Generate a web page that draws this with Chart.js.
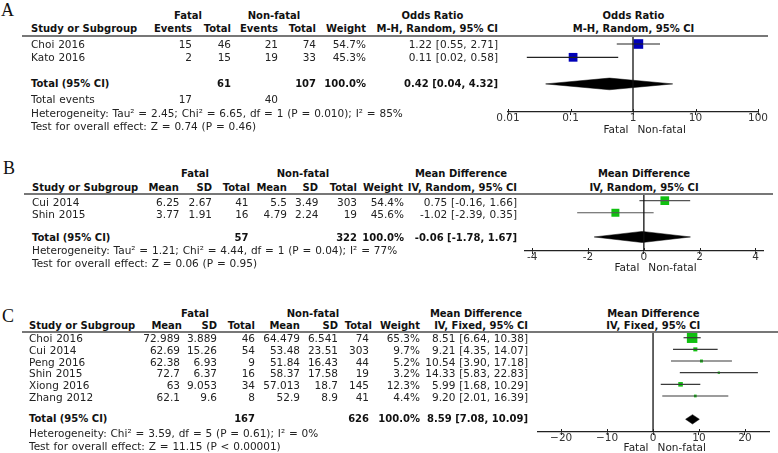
<!DOCTYPE html>
<html>
<head>
<meta charset="utf-8">
<script src="https://cdn.jsdelivr.net/npm/chart.js@4.4.1/dist/chart.umd.min.js"></script>
<style>
  body { margin: 0; background: #fff; width: 778px; height: 453px; position: relative; overflow: hidden; font-family: "DejaVu Sans", Verdana, sans-serif; }
  .t { position: absolute; white-space: nowrap; font-size: 10.5px; word-spacing: 0.5px; line-height: 12px; color: #222; }
  .b { font-size: 10px; word-spacing: 0; font-weight: bold; color: #111; }
  .letter { position: absolute; font-family: "Liberation Serif", serif; font-size: 18px; line-height: 20px; color: #111; }
  .rule { position: absolute; height: 2px; background: #777; }
  canvas { position: absolute; }
</style>
</head>
<body>
<canvas id="plotA" width="290" height="105" style="left:488px;top:37px"></canvas>
<canvas id="plotB" width="258" height="87" style="left:515px;top:194px"></canvas>
<canvas id="plotC" width="251" height="122" style="left:528px;top:332px"></canvas>
<script>
// ---- A: odds ratio ----
const studiesA = ['Choi 2016', 'Kato 2016'];
const fatalEventsA = [15, 2];
const fatalTotalA = [46, 15];
const nonfatalEventsA = [21, 19];
const nonfatalTotalA = [74, 33];
const weightA = [54.7, 45.3];
const orA = [1.22, 0.11];
const orLowA = [0.55, 0.02];
const orHighA = [2.71, 0.58];
const pooledA = [0.42, 0.04, 4.32];
const ticksA = [0.01, 0.1, 1, 10, 100];

// ---- B: mean difference, random ----
const studiesB = ['Cui 2014', 'Shin 2015'];
const fatalMeanB = [6.25, 3.77];
const fatalSdB = [2.67, 1.91];
const fatalTotalB = [41, 16];
const nonfatalMeanB = [5.5, 4.79];
const nonfatalSdB = [3.49, 2.24];
const nonfatalTotalB = [303, 19];
const weightB = [54.4, 45.6];
const mdB = [0.75, -1.02];
const mdLowB = [-0.16, -2.39];
const mdHighB = [1.66, 0.35];
const pooledB = [-0.06, -1.78, 1.67];
const ticksB = [-4, -2, 0, 2, 4];

// ---- C: mean difference, fixed ----
const studiesC = ['Choi 2016', 'Cui 2014', 'Peng 2016', 'Shin 2015', 'Xiong 2016', 'Zhang 2012'];
const fatalMeanC = [72.989, 62.69, 62.38, 72.7, 63, 62.1];
const fatalSdC = [3.889, 15.26, 6.93, 6.37, 9.053, 9.6];
const fatalTotalC = [46, 54, 9, 16, 34, 8];
const nonfatalMeanC = [64.479, 53.48, 51.84, 58.37, 57.013, 52.9];
const nonfatalSdC = [6.541, 23.51, 16.43, 17.58, 18.7, 8.9];
const nonfatalTotalC = [74, 303, 44, 19, 145, 41];
const weightC = [65.3, 9.7, 5.2, 3.2, 12.3, 4.4];
const mdC = [8.51, 9.21, 10.54, 14.33, 5.99, 9.20];
const mdLowC = [6.64, 4.35, 3.90, 5.83, 1.68, 2.01];
const mdHighC = [10.38, 14.07, 17.18, 22.83, 10.29, 16.39];
const pooledC = [8.59, 7.08, 10.09];
const ticksC = [-20, -10, 0, 10, 20];

// ---------- table text ----------
function put(x, y, s, align, bold) {
  const d = document.createElement('div');
  d.className = bold ? 't b' : 't';
  d.textContent = s;
  d.style.top = (y - 6) + 'px';
  if (align === 'r') d.style.right = (778 - x) + 'px';
  else if (align === 'c') { d.style.left = x + 'px'; d.style.transform = 'translateX(-50%)'; }
  else d.style.left = x + 'px';
  document.body.appendChild(d);
}
function letter(x, y, s) {
  const d = document.createElement('div');
  d.className = 'letter';
  d.textContent = s;
  d.style.left = x + 'px';
  d.style.top = (y - 10) + 'px';
  document.body.appendChild(d);
}
function rule(x1, x2, y) {
  const d = document.createElement('div');
  d.className = 'rule';
  d.style.left = x1 + 'px';
  d.style.width = (x2 - x1) + 'px';
  d.style.top = (y - 1) + 'px';
  document.body.appendChild(d);
}
const ci = (e, l, h) => e.toFixed(2) + ' [' + l.toFixed(2) + ', ' + h.toFixed(2) + ']';
const pct = w => w.toFixed(1) + '%';
const sum = a => a.reduce((p, q) => p + q, 0);

// A
letter(1, 10, 'A');
put(188, 16, 'Fatal', 'c', true);
put(274, 16, 'Non-fatal', 'c', true);
put(432.5, 16, 'Odds Ratio', 'c', true);
put(633.5, 16, 'Odds Ratio', 'c', true);
put(31, 29, 'Study or Subgroup', 'l', true);
put(192, 29, 'Events', 'r', true);
put(231, 29, 'Total', 'r', true);
put(278, 29, 'Events', 'r', true);
put(316, 29, 'Total', 'r', true);
put(366, 29, 'Weight', 'r', true);
put(498, 29, 'M-H, Random, 95% CI', 'r', true);
put(633.5, 29, 'M-H, Random, 95% CI', 'c', true);
rule(22, 768, 36);
const rowYA = [44, 57.3];
studiesA.forEach((s, i) => {
  const y = rowYA[i];
  put(31, y, s);
  put(192, y, String(fatalEventsA[i]), 'r');
  put(231, y, String(fatalTotalA[i]), 'r');
  put(278, y, String(nonfatalEventsA[i]), 'r');
  put(316, y, String(nonfatalTotalA[i]), 'r');
  put(366, y, pct(weightA[i]), 'r');
  put(498, y, ci(orA[i], orLowA[i], orHighA[i]), 'r');
});
put(31, 84, 'Total (95% CI)', 'l', true);
put(231, 84, String(sum(fatalTotalA)), 'r', true);
put(316, 84, String(sum(nonfatalTotalA)), 'r', true);
put(366, 84, '100.0%', 'r', true);
put(498, 84, ci(pooledA[0], pooledA[1], pooledA[2]), 'r', true);
put(31, 99, 'Total events');
put(192, 99, String(sum(fatalEventsA)), 'r');
put(278, 99, String(sum(nonfatalEventsA)), 'r');
put(31, 113, 'Heterogeneity: Tau\u00b2 = 2.45; Chi\u00b2 = 6.65, df = 1 (P = 0.010); I\u00b2 = 85%');
put(31, 126, 'Test for overall effect: Z = 0.74 (P = 0.46)');

// B
letter(3, 168, 'B');
put(195, 174, 'Fatal', 'c', true);
put(303, 174, 'Non-fatal', 'c', true);
put(461, 174, 'Mean Difference', 'c', true);
put(644, 174, 'Mean Difference', 'c', true);
put(32, 188, 'Study or Subgroup', 'l', true);
put(179, 188, 'Mean', 'r', true);
put(212, 188, 'SD', 'r', true);
put(250, 188, 'Total', 'r', true);
put(287, 188, 'Mean', 'r', true);
put(318, 188, 'SD', 'r', true);
put(357, 188, 'Total', 'r', true);
put(403, 188, 'Weight', 'r', true);
put(517, 188, 'IV, Random, 95% CI', 'r', true);
put(644, 188, 'IV, Random, 95% CI', 'c', true);
rule(24, 773, 193.5);
const rowYB = [201.5, 213.5];
studiesB.forEach((s, i) => {
  const y = rowYB[i];
  put(32, y, s);
  put(179.5, y, String(fatalMeanB[i]), 'r');
  put(212, y, fatalSdB[i].toFixed(2), 'r');
  put(248.5, y, String(fatalTotalB[i]), 'r');
  put(287, y, String(nonfatalMeanB[i]), 'r');
  put(318.5, y, nonfatalSdB[i].toFixed(2), 'r');
  put(357, y, String(nonfatalTotalB[i]), 'r');
  put(404, y, pct(weightB[i]), 'r');
  put(517, y, ci(mdB[i], mdLowB[i], mdHighB[i]), 'r');
});
put(32, 237.5, 'Total (95% CI)', 'l', true);
put(248.5, 237.5, String(sum(fatalTotalB)), 'r', true);
put(357, 237.5, String(sum(nonfatalTotalB)), 'r', true);
put(404, 237.5, '100.0%', 'r', true);
put(517, 237.5, ci(pooledB[0], pooledB[1], pooledB[2]), 'r', true);
put(32, 250, 'Heterogeneity: Tau\u00b2 = 1.21; Chi\u00b2 = 4.44, df = 1 (P = 0.04); I\u00b2 = 77%');
put(32, 263, 'Test for overall effect: Z = 0.06 (P = 0.95)');

// C
letter(2, 316, 'C');
put(195, 314, 'Fatal', 'c', true);
put(313, 314, 'Non-fatal', 'c', true);
put(476, 314, 'Mean Difference', 'c', true);
put(653.3, 314, 'Mean Difference', 'c', true);
put(29, 326, 'Study or Subgroup', 'l', true);
put(182, 326, 'Mean', 'r', true);
put(217, 326, 'SD', 'r', true);
put(255, 326, 'Total', 'r', true);
put(300, 326, 'Mean', 'r', true);
put(338, 326, 'SD', 'r', true);
put(372, 326, 'Total', 'r', true);
put(420, 326, 'Weight', 'r', true);
put(528, 326, 'IV, Fixed, 95% CI', 'r', true);
put(653.3, 326, 'IV, Fixed, 95% CI', 'c', true);
rule(22, 778, 332);
const rowYC = [338, 350, 361.5, 373, 385, 396.5];
studiesC.forEach((s, i) => {
  const y = rowYC[i];
  put(29, y, s);
  put(180, y, String(fatalMeanC[i]), 'r');
  put(217, y, String(fatalSdC[i]), 'r');
  put(255, y, String(fatalTotalC[i]), 'r');
  put(300, y, String(nonfatalMeanC[i]), 'r');
  put(338, y, String(nonfatalSdC[i]), 'r');
  put(369, y, String(nonfatalTotalC[i]), 'r');
  put(420, y, pct(weightC[i]), 'r');
  put(528, y, ci(mdC[i], mdLowC[i], mdHighC[i]), 'r');
});
put(29, 419, 'Total (95% CI)', 'l', true);
put(255, 419, String(sum(fatalTotalC)), 'r', true);
put(369, 419, String(sum(nonfatalTotalC)), 'r', true);
put(420, 419, '100.0%', 'r', true);
put(528, 419, ci(pooledC[0], pooledC[1], pooledC[2]), 'r', true);
put(29, 433, 'Heterogeneity: Chi\u00b2 = 3.59, df = 5 (P = 0.61); I\u00b2 = 0%');
put(29, 446, 'Test for overall effect: Z = 11.15 (P < 0.00001)');

// ---------- forest plots ----------
const forestExtras = {
  id: 'forestExtras',
  afterDraw(chart, args, opts) {
    const { ctx } = chart;
    const x = chart.scales.x;
    const axisY = x.top;
    ctx.save();
    ctx.strokeStyle = '#222';
    ctx.lineWidth = 1;
    x.ticks.forEach(t => {
      const px = Math.round(x.getPixelForValue(t.value)) + 0.5;
      ctx.beginPath();
      ctx.moveTo(px, axisY - 3);
      ctx.lineTo(px, axisY);
      ctx.stroke();
    });
    const nx = x.getPixelForValue(opts.nullValue);
    ctx.font = '10.5px "DejaVu Sans"';
    ctx.fillStyle = '#222';
    ctx.textBaseline = 'middle';
    ctx.textAlign = 'right';
    ctx.fillText('Fatal', nx - 4.5, axisY + opts.labelOffset);
    ctx.textAlign = 'left';
    ctx.fillText('Non-fatal', nx + 4.5, axisY + opts.labelOffset);
    ctx.restore();
  }
};

function forest(id, cfg) {
  const n = cfg.est.length;
  const datasets = [];
  // null line
  datasets.push({
    data: [{ x: cfg.nullValue, y: cfg.yMin }, { x: cfg.nullValue, y: cfg.yMax }],
    borderColor: '#111', borderWidth: 1.3, pointRadius: 0
  });
  // confidence intervals
  for (let i = 0; i < n; i++) {
    datasets.push({
      data: [{ x: cfg.low[i], y: i }, { x: cfg.high[i], y: i }],
      borderColor: cfg.ciColor, borderWidth: 1.2, pointRadius: 0
    });
  }
  // pooled diamond (upper half filled to lower half)
  const t = n + 1;
  const h = cfg.diamondH;
  datasets.push({
    data: [{ x: cfg.pooled[1], y: t }, { x: cfg.pooled[0], y: t - h }, { x: cfg.pooled[2], y: t }],
    borderColor: '#000', borderWidth: 0.5, pointRadius: 0, fill: '+1', backgroundColor: '#000'
  });
  datasets.push({
    data: [{ x: cfg.pooled[1], y: t }, { x: cfg.pooled[0], y: t + h }, { x: cfg.pooled[2], y: t }],
    borderColor: '#000', borderWidth: 0.5, pointRadius: 0
  });
  // study squares, side proportional to sqrt(weight)
  datasets.push({
    data: cfg.est.map((e, i) => ({ x: e, y: i })),
    showLine: false,
    pointStyle: 'rect',
    pointRadius: cfg.weight.map(w => cfg.sizeK * Math.sqrt(w) / Math.SQRT2),
    pointBackgroundColor: cfg.color,
    pointBorderColor: cfg.color,
    pointBorderWidth: 0,
    clip: false
  });

  new Chart(document.getElementById(id), {
    type: 'line',
    data: { datasets },
    plugins: [forestExtras],
    options: {
      responsive: false,
      animation: false,
      events: [],
      layout: { autoPadding: false, padding: { left: cfg.padL, right: cfg.padR, top: 0, bottom: 0 } },
      plugins: {
        legend: { display: false },
        tooltip: { enabled: false },
        forestExtras: { nullValue: cfg.nullValue, labelOffset: cfg.labelOffset }
      },
      scales: {
        x: {
          type: cfg.log ? 'logarithmic' : 'linear',
          min: cfg.xMin, max: cfg.xMax,
          afterBuildTicks: s => { s.ticks = cfg.ticks.map(v => ({ value: v })); },
          afterFit: s => { s.height = cfg.axisH; },
          grid: { drawOnChartArea: false, tickLength: 3, color: '#222' },
          border: { display: true, color: '#222', width: 1.3 },
          ticks: {
            padding: -3,
            color: '#333',
            font: { family: 'DejaVu Sans', size: 10.5 },
            maxRotation: 0,
            autoSkip: false,
            callback: v => cfg.fmt(v)
          }
        },
        y: { type: 'linear', display: false, reverse: true, min: cfg.yMin, max: cfg.yMax }
      }
    }
  });
}

forest('plotA', {
  log: true, xMin: 0.01, xMax: 100, ticks: ticksA, nullValue: 1,
  fmt: v => String(v),
  est: orA, low: orLowA, high: orHighA, weight: weightA, pooled: pooledA,
  yMin: -0.526, yMax: 5.11, diamondH: 0.44, sizeK: 1.3,
  color: '#0000b8', ciColor: '#222',
  padL: 20, padR: 20, axisH: 30, labelOffset: 18.5
});
forest('plotB', {
  log: false, xMin: -4.26, xMax: 4.27, ticks: ticksB, nullValue: 0,
  fmt: v => String(v),
  est: mdB, low: mdLowB, high: mdHighB, weight: weightB, pooled: pooledB,
  yMin: -0.55, yMax: 4.16, diamondH: 0.46, sizeK: 1.18,
  color: '#10c010', ciColor: '#555',
  padL: 10, padR: 10, axisH: 30, labelOffset: 17.5
});
forest('plotC', {
  log: false, xMin: -25.05, xMax: 25.25, ticks: ticksC, nullValue: 0,
  fmt: v => (v < 0 ? '\u2212' + (-v) : String(v)),
  est: mdC, low: mdLowC, high: mdHighC, weight: weightC, pooled: pooledC,
  yMin: -0.49, yMax: 8.09, diamondH: 0.4, sizeK: 1.3,
  color: '#10c010', ciColor: '#3a3a3a',
  padL: 10, padR: 10, axisH: 22, labelOffset: 16.5
});
</script>
</body>
</html>
